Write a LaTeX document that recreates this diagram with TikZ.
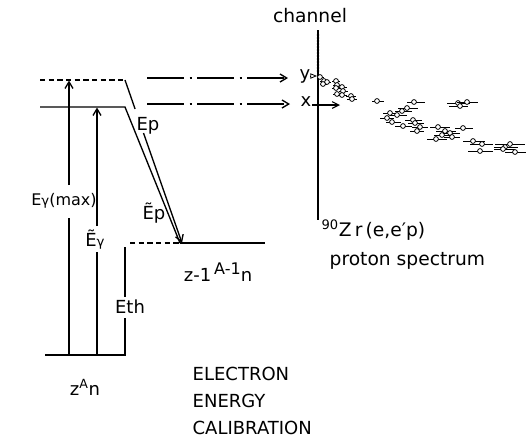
\documentclass[tikz,border=0pt]{standalone}
\usepackage{fontspec}
\setmainfont{DejaVu Sans}
\usetikzlibrary{arrows.meta}
\begin{document}
\begin{tikzpicture}[x=0.75pt,y=-0.75pt, line width=1pt,
  dsh/.style={dash pattern=on 4pt off 2.5pt},
  dd/.style={dash pattern=on 28pt off 4pt on 1.5pt off 4pt},
  arr/.style={-{Straight Barb[length=5pt,width=6pt]}},
  lbl/.style={inner sep=0pt, font=\fontsize{13.5}{15}\selectfont},
  big/.style={inner sep=0pt, font=\fontsize{13.5}{16}\selectfont, anchor=west},
  datapt/.style={draw, fill=white, line width=0.6pt, circle, inner sep=0pt, minimum size=3.6pt},
  errbar/.style={line width=0.7pt}]
\useasboundingbox (0,0) rectangle (526,440);
% level coordinates
\coordinate (topL) at (40,80);
\coordinate (topR) at (125,80);
\coordinate (topS) at (135.1,109);
\coordinate (epA) at (143.5,133);
\coordinate (tip) at (182,243);
\coordinate (midL) at (40,107);
\coordinate (midR) at (125,107);
\coordinate (lowD) at (130,243);
\coordinate (lowM) at (180,243);
\coordinate (lowR) at (265,243);
\coordinate (gL) at (45,355);
\coordinate (gR) at (126,355);
% levels
\draw[dsh] (topL) -- (topR);
\draw (topR) -- (topS);
\draw[arr] (epA) -- (tip);
\draw (midL) -- (midR) -- (lowM);
\draw[dsh] (lowD) -- (lowM);
\draw (lowM) -- (lowR);
\draw (gL) -- (gR);
% vertical arrows
\node[lbl, font=\fontsize{12}{14}\selectfont] (emax) at (64,201) {E{\fontsize{10}{10}\selectfont γ}(max)};
\coordinate (emaxT) at (69,80.5);
\coordinate (emaxA) at (69,185);
\coordinate (emaxB) at (69,218);
\coordinate (emaxG) at (69,355);
\draw[arr] (emaxA) -- (emaxT);
\draw (emaxB) -- (emaxG);
\node[lbl] (egt) at (95,240) {Ẽ{\fontsize{10}{10}\selectfont γ}};
\coordinate (egT) at (97,107.5);
\coordinate (egA) at (97,226);
\coordinate (egB) at (97,252);
\coordinate (egG) at (97,355);
\draw[arr] (egA) -- (egT);
\draw (egB) -- (egG);
\node[lbl] (eth) at (130,307) {Eth};
\coordinate (ethT) at (125,247);
\coordinate (ethA) at (125,297);
\coordinate (ethB) at (125,318);
\coordinate (ethG) at (125,355);
\draw (ethT) -- (ethA);
\draw (ethB) -- (ethG);
% Ep labels
\node[lbl] (ep) at (148,126) {Ep};
\node[lbl] (ept) at (154,213) {Ẽp};
% nucleus labels
\node[lbl] (zan) at (85,387) {z\textsuperscript{A}n};
\node[lbl] (zan1) at (218,272) {z-1\,{\fontsize{12}{12}\selectfont\raisebox{0.45em}{A-1}}n};
% dash-dot arrows to spectrum
\coordinate (ay0) at (147,78);
\coordinate (ay1) at (288,78);
\coordinate (ax0) at (147,104);
\coordinate (ax1) at (290,104);
\draw[dd, arr] (ay0) -- (ay1);
\draw[dd, arr] (ax0) -- (ax1);
% channel axis
\coordinate (axT) at (318,30);
\coordinate (axB) at (318,220);
\draw (axT) -- (axB);
\foreach \y in {35,38,...,72} \fill (318,\y) circle (1.4);
\node[big, anchor=center, font=\fontsize{14}{16}\selectfont] (chan) at (310,16) {channel};
\node[lbl] (ylab) at (305,76) {y};
\node[lbl] (xlab) at (306,102) {x};
\coordinate (ym0) at (310,76);
\coordinate (ym1) at (317,76);
\draw[-{Triangle[open,length=5pt,width=4pt]}, line width=0.6pt] (ym0) -- (ym1);
\coordinate (xm0) at (312,105);
\coordinate (xm1) at (340,105);
\draw[-{Straight Barb[length=5pt,width=5pt]}, line width=0.8pt] (xm0) -- (xm1);
% data points (x, y, left end, right end)
\foreach \px/\py/\la/\ra in {
 320/77/317/324, 324/81/320/328, 327/82/324/331, 323/84/320/327,
 336/81/332/340, 337/85/333/342, 342/87/338/347, 336/88/332/341,
 343/91/339/348, 337/94/333/342, 342/95/338/347, 351/96/346/356,
 352/99/347/357,
 377/101/372/384, 414/102/407/425, 458/103/447/470, 467/102/457/478,
 460/106/449/468, 407/108/398/418, 402/111/395/412, 390/113/383/398,
 397/115/390/407, 387/118/380/394, 392/122/386/401, 413/120/405/422,
 415/123/408/424, 420/127/412/428, 403/126/395/412, 417/131/410/424,
 438/127/430/450, 463/128/455/473, 445/131/436/456, 450/133/440/460,
 442/135/434/452, 452/137/444/460, 436/139/427/447, 473/141/463/485,
 482/144/470/493, 510/144/495/525, 505/147/494/518, 480/151/468/493,
 503/149/494/515, 515/152/505/526}
{
  \draw[errbar] (\la,\py) -- (\ra,\py);
  \node[datapt] at (\px,\py) {};
}
% spectrum title
\node[big, font=\fontsize{14}{16}\selectfont] (zr) at (321,230) {\textsuperscript{90}Z\,r\,(e,e′p)};
\node[big, font=\fontsize{14}{16}\selectfont] (ps) at (329,261) {proton spectrum};
% caption
\node[big] (c1) at (192,374) {ELECTRON};
\node[big] (c2) at (192,401) {ENERGY};
\node[big] (c3) at (192,428) {CALIBRATION};
\end{tikzpicture}
\end{document}
